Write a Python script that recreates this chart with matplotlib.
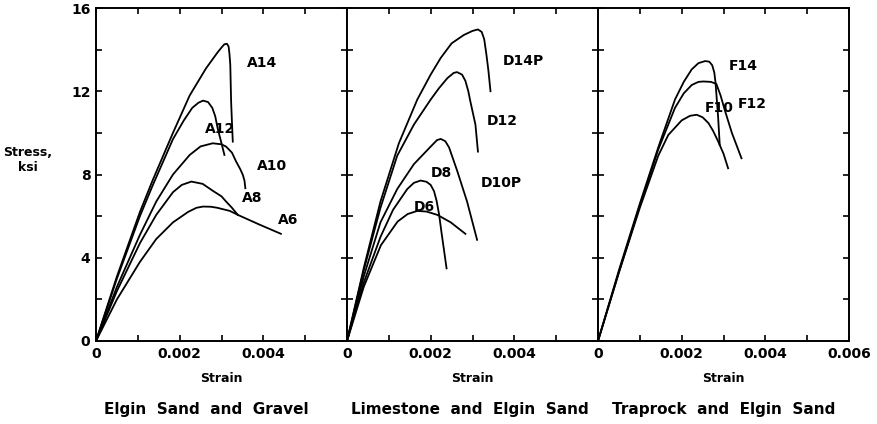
import matplotlib.pyplot as plt

# strain values in units of 0.001, stress in ksi
# Elgin sand and gravel
a14_x = [0, 0.5, 1.05, 1.36, 1.84, 2.24, 2.63, 2.9, 3.0, 3.07, 3.13, 3.17, 3.19, 3.21, 3.23, 3.25, 3.27]
a14_y = [0, 3.1, 6.2, 7.75, 10.0, 11.8, 13.1, 13.85, 14.1, 14.26, 14.28, 14.15, 13.8, 13.27, 11.5, 10.5, 9.58]
a12_x = [0, 0.5, 1.05, 1.36, 1.84, 2.1, 2.3, 2.45, 2.56, 2.68, 2.78, 2.85, 2.91, 3.0, 3.07]
a12_y = [0, 3.0, 6.0, 7.5, 9.7, 10.6, 11.2, 11.45, 11.55, 11.48, 11.2, 10.8, 10.2, 9.5, 8.94]
a10_x = [0, 0.5, 1.05, 1.44, 1.84, 2.24, 2.5, 2.79, 3.0, 3.11, 3.25, 3.35, 3.45, 3.51, 3.55, 3.57]
a10_y = [0, 2.6, 5.1, 6.7, 8.0, 8.94, 9.35, 9.5, 9.45, 9.34, 9.05, 8.62, 8.25, 7.98, 7.7, 7.34]
a8_x = [0, 0.5, 1.05, 1.44, 1.84, 2.05, 2.28, 2.55, 2.79, 3.0, 3.11, 3.25, 3.39]
a8_y = [0, 2.4, 4.7, 6.06, 7.15, 7.5, 7.66, 7.55, 7.22, 6.95, 6.7, 6.4, 6.06]
a6_x = [0, 0.5, 1.05, 1.44, 1.84, 2.2, 2.4, 2.56, 2.75, 2.9, 3.2, 3.39, 3.9, 4.42]
a6_y = [0, 2.0, 3.8, 4.9, 5.7, 6.2, 6.4, 6.46, 6.45, 6.4, 6.25, 6.06, 5.6, 5.15]

# Limestone and Elgin sand
d14p_x = [0, 0.4, 0.8, 1.24, 1.68, 2.0, 2.24, 2.5, 2.79, 3.0, 3.13, 3.22, 3.28, 3.33, 3.38, 3.43]
d14p_y = [0, 3.5, 6.7, 9.5, 11.6, 12.8, 13.6, 14.3, 14.7, 14.9, 14.97, 14.85, 14.5, 13.8, 13.0, 12.0]
d12_x = [0, 0.4, 0.8, 1.2, 1.6, 2.0, 2.2, 2.4, 2.55, 2.63, 2.75, 2.83, 2.9, 2.95, 3.07, 3.13]
d12_y = [0, 3.4, 6.4, 8.9, 10.4, 11.6, 12.15, 12.63, 12.88, 12.92, 12.8, 12.5, 12.0, 11.5, 10.4, 9.1]
d10p_x = [0, 0.4, 0.8, 1.2, 1.6, 2.0, 2.15, 2.24, 2.35, 2.44, 2.64, 2.87, 3.11]
d10p_y = [0, 3.1, 5.7, 7.3, 8.5, 9.34, 9.65, 9.71, 9.6, 9.3, 8.14, 6.7, 4.86]
d8_x = [0, 0.4, 0.8, 1.1, 1.44, 1.6, 1.76, 1.9, 2.0, 2.08, 2.14, 2.2, 2.26, 2.32, 2.38]
d8_y = [0, 2.8, 5.0, 6.3, 7.3, 7.6, 7.71, 7.65, 7.5, 7.2, 6.75, 6.1, 5.2, 4.35, 3.49]
d6_x = [0, 0.4, 0.81, 1.21, 1.45, 1.68, 1.9, 2.16, 2.48, 2.83]
d6_y = [0, 2.6, 4.6, 5.74, 6.1, 6.25, 6.22, 6.06, 5.7, 5.15]

# Traprock and Elgin sand
f14_x = [0, 0.5, 1.0, 1.44, 1.84, 2.05, 2.24, 2.4, 2.56, 2.66, 2.73, 2.78, 2.81, 2.84, 2.87, 2.91]
f14_y = [0, 3.4, 6.6, 9.3, 11.6, 12.45, 13.05, 13.35, 13.45, 13.42, 13.25, 12.9, 12.4, 11.6, 10.8, 9.42]
f12_x = [0, 0.5, 1.0, 1.44, 1.84, 2.05, 2.24, 2.4, 2.52, 2.7, 2.83, 2.93, 3.03, 3.2, 3.43]
f12_y = [0, 3.3, 6.5, 9.2, 11.2, 11.9, 12.3, 12.45, 12.47, 12.45, 12.35, 11.8, 11.1, 10.0, 8.78]
f10_x = [0, 0.5, 1.0, 1.44, 1.68, 2.0, 2.2, 2.36, 2.5, 2.64, 2.75, 2.87, 3.0, 3.11]
f10_y = [0, 3.3, 6.4, 8.9, 9.9, 10.6, 10.82, 10.87, 10.75, 10.47, 10.1, 9.6, 9.0, 8.3]

panels = [
    ("Elgin  Sand  and  Gravel", 0.44,
     [(a14_x, a14_y), (a12_x, a12_y), (a10_x, a10_y), (a8_x, a8_y), (a6_x, a6_y)],
     [("A14", 3.6, 13.35), ("A12", 2.6, 10.2), ("A10", 3.85, 8.4),
      ("A8", 3.5, 6.85), ("A6", 4.35, 5.8)]),
    ("Limestone  and  Elgin  Sand", 0.49,
     [(d14p_x, d14p_y), (d12_x, d12_y), (d10p_x, d10p_y), (d8_x, d8_y), (d6_x, d6_y)],
     [("D14P", 3.72, 13.45), ("D12", 3.33, 10.55), ("D10P", 3.2, 7.6),
      ("D8", 2.0, 8.05), ("D6", 1.6, 6.45)]),
    ("Traprock  and  Elgin  Sand", 0.5,
     [(f14_x, f14_y), (f12_x, f12_y), (f10_x, f10_y)],
     [("F14", 3.12, 13.2), ("F12", 3.35, 11.4), ("F10", 2.55, 11.2)]),
]

plt.rcParams['font.family'] = ['DejaVu Sans']
fig = plt.figure(figsize=(8.77, 4.24), dpi=100)

left = 96 / 877
width = 251 / 877
bottom = 1 - 341 / 424
height = 333 / 424

for i, (title, tx, curves, labels) in enumerate(panels):
    ax = fig.add_axes([left + i * width, bottom, width, height])
    for xs, ys in curves:
        ax.plot([x * 0.001 for x in xs], ys, color='black', lw=1.3,
                solid_joinstyle='round')
    for name, lx, ly in labels:
        ax.text(lx * 0.001, ly, name, fontsize=10, fontweight='bold',
                ha='left', va='center')
    ax.set_xlim(0, 0.006)
    ax.set_ylim(0, 16)
    ax.set_xticks([0, 0.001, 0.002, 0.003, 0.004, 0.005, 0.006])
    if i == 2:
        ax.set_xticklabels(['0', '', '0.002', '', '0.004', '', '0.006'])
    else:
        ax.set_xticklabels(['0', '', '0.002', '', '0.004', '', ''])
    ax.set_yticks(range(0, 17, 2))
    if i == 0:
        ax.set_yticklabels(['0', '', '4', '', '8', '', '12', '', '16'])
    else:
        ax.set_yticklabels([])
    ax.tick_params(direction='in', top=True, right=True, length=4,
                   width=1.2, labelsize=10, pad=4)
    for lab in ax.get_xticklabels() + ax.get_yticklabels():
        lab.set_fontweight('bold')
    for sp in ax.spines.values():
        sp.set_linewidth(1.4)
    ax.set_xlabel('Strain', fontsize=9, fontweight='bold', labelpad=8)
    ax.text(tx, -0.205, title, transform=ax.transAxes, fontsize=11,
            fontweight='bold', ha='center', va='center')

fig.text(28 / 877, 1 - 160 / 424, 'Stress,\nksi', fontsize=9,
         fontweight='bold', ha='center', va='center')

fig.savefig('out.png', dpi=100)
